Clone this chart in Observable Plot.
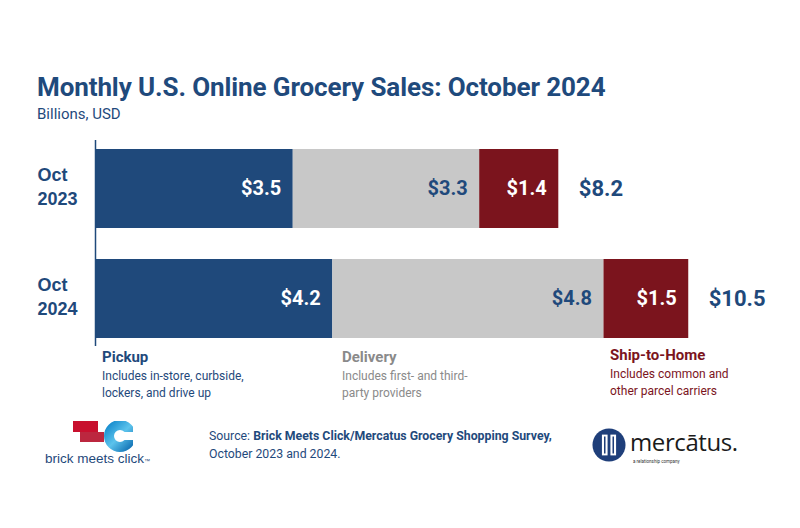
<!DOCTYPE html>
<html>
<head>
<meta charset="utf-8">
<script src="https://cdn.jsdelivr.net/npm/d3@7"></script>
<script src="https://cdn.jsdelivr.net/npm/@observablehq/plot@0.6"></script>
<style>
  html, body { margin: 0; padding: 0; background: #fff; }
  #wrap { position: relative; width: 800px; height: 528px; overflow: hidden; font-family: Roboto, "Noto Sans", sans-serif; }
  #wrap > svg.chart { position: absolute; left: 0; top: 0; }
  .abs { position: absolute; white-space: nowrap; }
  .title { left: 37px; top: 72px; font-size: 26px; font-weight: 700; color: #1f4a7c; letter-spacing: -0.1px; line-height: 30px; }
  .subtitle { left: 37px; top: 105px; font-size: 15px; color: #1f4a7c; line-height: 18px; }
  .lg h { display: block; font-size: 15px; font-weight: 700; line-height: 18px; margin-bottom: 2px; }
  .lg p { margin: 0; font-size: 12px; line-height: 16.5px; }
  .source { left: 209px; top: 428px; font-size: 12.3px; line-height: 17.5px; color: #1f4a7c; }
</style>
</head>
<body>
<div id="wrap"></div>
<script>
// ---- data ----
const years = ["Oct 2023", "Oct 2024"];
const yearLabels = ["Oct\n2023", "Oct\n2024"];
const channels = ["Pickup", "Delivery", "Ship-to-Home"];
const pickup = [3.5, 4.2];
const delivery = [3.3, 4.8];
const shipToHome = [1.4, 1.5];
const totals = [8.2, 10.5];
const channelDescriptions = [
  "Includes in-store, curbside,\nlockers, and drive up",
  "Includes first- and third-\nparty providers",
  "Includes common and\nother parcel carriers"
];
const sourceText = ["Brick Meets Click/Mercatus Grocery Shopping Survey,", "October 2023 and 2024."];

// ---- styles ----
const fills = ["#1f497b", "#c8c8c8", "#7b141d"];
const labelColors = ["#ffffff", "#1f497b", "#ffffff"];
const legendColors = ["#1f497b", "#8a8a8a", "#7b141d"];
const navy = "#1f497b";

const series = [pickup, delivery, shipToHome];
const rows = [];
years.forEach((y, i) => channels.forEach((c, j) => rows.push({year: y, channel: c, value: series[j][i], idx: j})));
const totalRows = years.map((y, i) => ({year: y, total: totals[i]}));
const labelRows = years.map((y, i) => ({year: y, label: yearLabels[i]}));

const fmt = v => "$" + v.toFixed(1);

const chart = Plot.plot({
  width: 800,
  height: 528,
  marginLeft: 95,
  marginRight: 27,
  marginTop: 140,
  marginBottom: 182,
  style: {fontFamily: "Roboto, sans-serif", background: "transparent"},
  x: {domain: [0, 12], axis: null},
  y: {domain: years, axis: null, paddingInner: 0.282, paddingOuter: 0.075},
  color: {domain: channels, range: fills},
  marks: [
    Plot.barX(rows, {x: "value", y: "year", fill: "channel"}),
    Plot.text(rows, Plot.stackX2({
      x: "value", y: "year", text: d => fmt(d.value),
      fill: d => labelColors[d.idx], textAnchor: "end", dx: -12,
      fontSize: 20, fontWeight: 700, letterSpacing: -0.7
    })),
    Plot.text(totalRows, {
      x: "total", y: "year", text: d => fmt(d.total), textAnchor: "start", dx: 20,
      fill: navy, fontSize: 22, fontWeight: 700, letterSpacing: -0.7
    }),
    Plot.text(labelRows, {
      y: "year", text: "label", frameAnchor: "left", textAnchor: "start", dx: -58, dy: -4,
      fill: navy, fontSize: 18, fontWeight: 700, lineHeight: 1.33,
      fontFamily: "'Liberation Sans', Arial, sans-serif"
    }),
    Plot.ruleX([0], {stroke: navy, strokeWidth: 1.5})
  ]
});
chart.classList.add("chart");

const wrap = document.getElementById("wrap");
wrap.appendChild(chart);

function add(html, cls, style) {
  const d = document.createElement("div");
  d.className = "abs " + cls;
  if (style) d.setAttribute("style", style);
  d.innerHTML = html;
  wrap.appendChild(d);
  return d;
}

add("Monthly U.S. Online Grocery Sales: October 2024", "title");
add("Billions, USD", "subtitle");

const legendX = [102, 342, 610];
const legendY = [348, 348, 346];
channels.forEach((c, j) => {
  add(`<h>${c}</h><p>${channelDescriptions[j].replace("\n", "<br>")}</p>`, "lg",
      `left:${legendX[j]}px; top:${legendY[j]}px; color:${legendColors[j]};`);
});

add(`Source: <b>${sourceText[0]}</b><br>${sourceText[1]}`, "source");

// brick meets click logo (approximation)
add(`<svg width="60" height="32" viewBox="0 0 60 32" style="display:block">
  <defs><linearGradient id="cg" x1="0" x2="1" y1="0" y2="1"><stop offset="0" stop-color="#1a8fd0"/><stop offset="0.5" stop-color="#5cc3ec"/><stop offset="1" stop-color="#1677b8"/></linearGradient></defs>
  <circle cx="47" cy="15" r="11" fill="none" stroke="url(#cg)" stroke-width="10"/>
  <rect x="50" y="11" width="14" height="8" fill="#fff"/>
  <rect x="0" y="0" width="25" height="11" fill="#c8102e"/>
  <rect x="7" y="11" width="24" height="10" fill="#b50f2a" opacity="0.9"/>
</svg>`, "", "left:73px; top:421px;");
add("brick meets click<span style='font-size:6px'>™</span>", "", `left:45px; top:451px; font-size:13.5px; line-height:15px; color:${navy}; font-family:'Liberation Sans', Arial, sans-serif;`);

// mercatus logo (approximation)
add(`<svg width="34" height="34" viewBox="0 0 36 36" style="display:block">
  <circle cx="18" cy="18" r="17.5" fill="#1f3f7a"/>
  <rect x="10.5" y="7" width="6" height="22" fill="#fff"/>
  <rect x="19.5" y="7" width="6" height="22" fill="#fff"/>
  <rect x="12.7" y="9" width="1.6" height="18" fill="#1f3f7a"/>
  <rect x="21.7" y="9" width="1.6" height="18" fill="#1f3f7a"/>
</svg>`, "", "left:592px; top:428px;");
add("mercātus.", "", "left:630px; top:431px; font-size:24px; line-height:22px; color:#1b1b1b; letter-spacing:-0.4px; font-family:'Open Sans', sans-serif;");
add("a relationship company", "", "left:633px; top:459px; font-size:4.5px; line-height:5px; color:#333;");
</script>
</body>
</html>
